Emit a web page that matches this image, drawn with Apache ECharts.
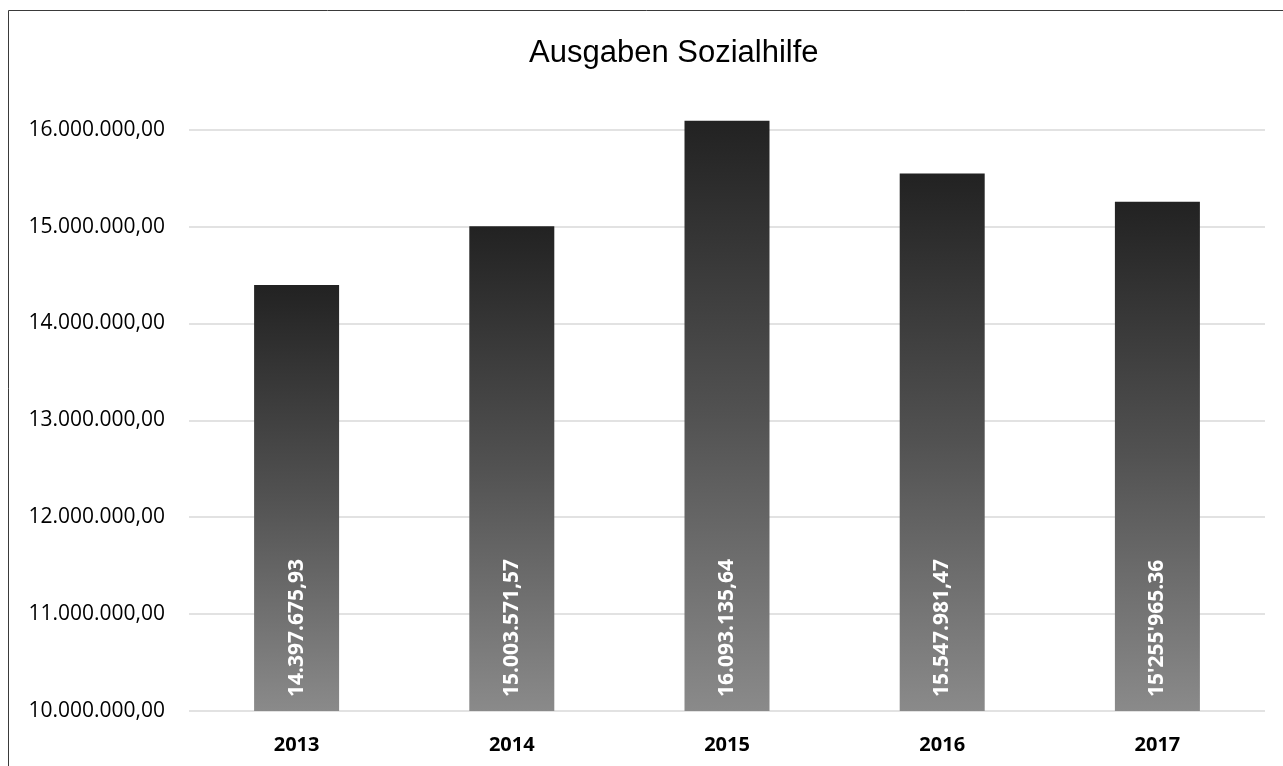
<!DOCTYPE html>
<html>
<head>
<meta charset="utf-8">
<script src="https://cdn.jsdelivr.net/npm/echarts@6/dist/echarts.min.js"></script>
<style>
  html, body { margin: 0; padding: 0; background: #fff; }
  #chart { width: 1283px; height: 766px; }
</style>
</head>
<body>
<div id="chart"></div>
<script>
var years = ["2013", "2014", "2015", "2016", "2017"];
var ausgaben = [14397675.93, 15003571.57, 16093135.64, 15547981.47, 15255965.36];
var barLabels = ["14.397.675,93", "15.003.571,57", "16.093.135,64", "15.547.981,47", "15'255'965.36"];
var yTicks = [10000000, 11000000, 12000000, 13000000, 14000000, 15000000, 16000000];
var yMax = 16100000; // etwas Luft über 16 Mio., damit 2015 nicht abgeschnitten wird

// 16000000 -> "16.000.000,00"
function formatDe(v) {
  if (yTicks.indexOf(v) < 0) return "";
  var s = Math.round(v).toString();
  return s.replace(/\B(?=(\d{3})+(?!\d))/g, ".") + ",00";
}

var myChart = echarts.init(document.getElementById("chart"));
var option = {
  backgroundColor: "#ffffff",
  animation: false,
  title: {
    text: "Ausgaben Sozialhilfe",
    left: 524,
    top: 33,
    textStyle: {
      fontFamily: "Liberation Sans",
      fontWeight: "normal",
      fontSize: 31,
      color: "#000000",
    },
  },
  graphic: [
    {
      type: "rect",
      shape: { x: 8.5, y: 10.5, width: 1400, height: 900 },
      style: { fill: "none", stroke: "#3a3a3a", lineWidth: 1 },
      silent: true,
    },
  ],
  grid: {
    left: 189,
    right: 18,
    top: 120,
    bottom: 55,
  },
  xAxis: {
    type: "category",
    data: years,
    axisLine: { show: false },
    axisTick: { show: false },
    axisLabel: {
      margin: 24,
      color: "#000000",
      fontFamily: "Open Sans",
      fontWeight: "bold",
      fontSize: 20,
    },
  },
  yAxis: {
    type: "value",
    min: yTicks[0],
    max: yMax,
    interval: 1000000,
    axisLine: { show: false },
    axisTick: { show: false },
    splitLine: { showMaxLine: false, lineStyle: { color: "#d9d9d9", width: 1.5 } },
    axisLabel: {
      margin: 24,
      showMaxLabel: false,
      color: "#000000",
      fontFamily: "Open Sans",
      fontSize: 21,
      formatter: formatDe,
    },
  },
  series: [
    {
      name: "Ausgaben",
      type: "bar",
      barWidth: 85,
      data: ausgaben,
      itemStyle: {
        color: new echarts.graphic.LinearGradient(0, 0, 0, 1, [
          { offset: 0, color: "#222222" },
          { offset: 0.5, color: "#525252" },
          { offset: 1, color: "#8a8a8a" },
        ]),
      },
      label: {
        show: true,
        position: "insideBottom",
        distance: 14,
        rotate: 90,
        align: "left",
        verticalAlign: "middle",
        color: "#ffffff",
        fontFamily: "Open Sans",
        fontWeight: "bold",
        fontSize: 21,
        formatter: function (p) {
          return barLabels[p.dataIndex];
        },
      },
    },
  ],
};
myChart.setOption(option);
</script>
</body>
</html>
